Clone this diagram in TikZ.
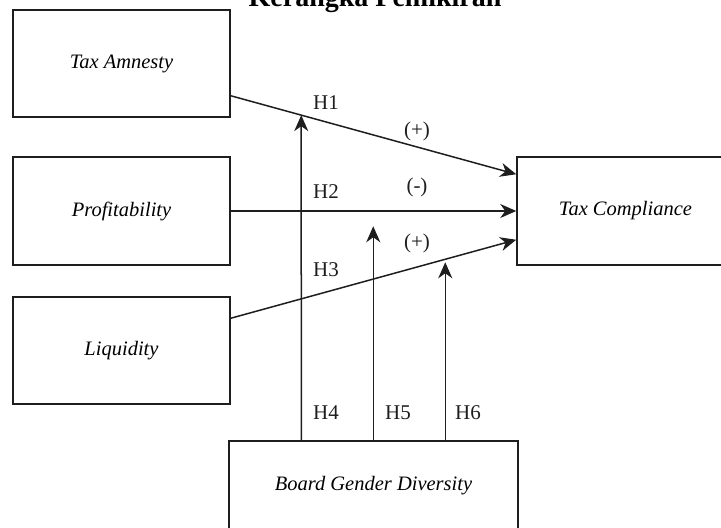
\documentclass[tikz,border=0pt]{standalone}
\usepackage{fontspec}
\setmainfont{Liberation Serif}
\usetikzlibrary{positioning, arrows.meta}
\definecolor{ink}{HTML}{1E1E1E}
\tikzset{
  varbox/.style={draw=ink, line width=1.5pt, inner sep=0pt, align=center,
                 font=\fontsize{20.5}{24}\selectfont\itshape},
  link/.style={-{Stealth[length=16pt, width=14pt, inset=5pt]}, line width=1.5pt, draw=ink},
  hyp/.style={font=\fontsize{21}{24}\selectfont, text=ink, inner sep=0pt},
}

\begin{document}
\begin{tikzpicture}[x=1pt, y=-1pt]
  \useasboundingbox (0,0) rectangle (721,528);
  \clip (0,0) rectangle (721,528);
  \node[anchor=base, font=\fontsize{28}{32}\selectfont\bfseries] (ttl) at (375,6)
        {Kerangka Pemikiran};
  % independent variables
  \node[varbox, minimum width=217pt, minimum height=107pt] (ta) at (121.5,63.5) {Tax Amnesty};
  \node[varbox, minimum width=217pt, minimum height=108pt] (pr) at (121.5,211) {Profitability};
  \node[varbox, minimum width=217pt, minimum height=107pt] (lq) at (121.5,350.5) {Liquidity};
  % dependent and moderating variables
  \node[varbox, minimum width=217pt, minimum height=108pt] (tc) at (625.5,211) {Tax Compliance};
  \node[varbox, minimum width=289pt, minimum height=90pt] (bgd) at (373.5,486) {Board Gender Diversity};
  % direct effects
  \coordinate (s1) at ([yshift=22pt]ta.south east);
  \coordinate (e1) at ([yshift=-18pt]tc.north west);
  \coordinate (s3) at ([yshift=-22pt]lq.north east);
  \coordinate (e3) at ([yshift=26pt]tc.south west);
  \draw[link] (s1) -- (e1);
  \draw[link] (pr) -- (tc);
  \draw[link] (s3) -- (e3);
  % moderating effects
  \coordinate (m4) at ([xshift=73pt]bgd.north west);
  \coordinate (m5) at ([xshift=145pt]bgd.north west);
  \coordinate (m6) at ([xshift=217pt]bgd.north west);
  \coordinate (m4up) at ([yshift=400pt]m4);
  \coordinate (t4) at (intersection of s1--e1 and m4--m4up);
  \coordinate (t5) at ([yshift=214pt]m5);
  \coordinate (t6) at ([yshift=178pt]m6);
  \draw[link] (m4) -- (t4);
  \draw[link] (m5) -- (t5);
  \draw[link] (m6) -- (t6);
  % labels
  \node[hyp] (h1) at (326,103) {H1};
  \node[hyp] (h2) at (326,192) {H2};
  \node[hyp] (h3) at (326,270) {H3};
  \node[hyp] (h4) at (326,413) {H4};
  \node[hyp] (h5) at (398,413) {H5};
  \node[hyp] (h6) at (468,413) {H6};
  \node[hyp] (p1) at (417,131) {(+)};
  \node[hyp] (p2) at (417,187) {(-)};
  \node[hyp] (p3) at (417,243) {(+)};
\end{tikzpicture}
\end{document}
